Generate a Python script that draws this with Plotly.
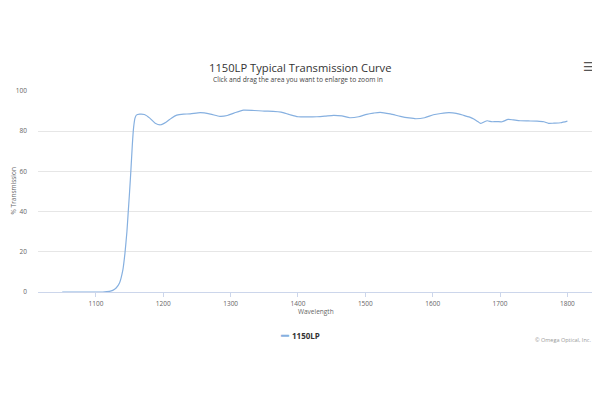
import plotly.graph_objects as go

wavelength = [1050, 1080, 1110, 1120, 1125, 1130, 1135, 1140, 1143, 1146, 1148, 1150, 1152,
              1154, 1156, 1158, 1160, 1165, 1172, 1180, 1188, 1196, 1204, 1212, 1220, 1230,
              1240, 1255, 1270, 1284, 1295, 1305, 1319, 1335, 1350, 1363, 1375, 1388, 1400,
              1415, 1428, 1440, 1453, 1465, 1477, 1490, 1502, 1512, 1522, 1537, 1552, 1565,
              1575, 1588, 1601, 1612, 1624, 1635, 1646, 1655, 1661, 1667, 1671, 1676, 1681,
              1688, 1695, 1703, 1712, 1720, 1730, 1742, 1755, 1765, 1772, 1780, 1790, 1800]
transmission = [0, 0, 0, 0.3, 0.8, 2, 4.5, 11, 19, 30, 40, 50, 61,
                73, 82, 86.5, 88, 88.5, 88.3, 86.5, 84, 83.2, 84.5, 86.5, 88, 88.5,
                88.6, 89.2, 88.5, 87.4, 87.8, 89, 90.5, 90.3, 90, 89.9, 89.5, 88.2, 87.2,
                87.1, 87.2, 87.5, 87.9, 87.6, 86.7, 87.2, 88.4, 89, 89.4, 88.6, 87.4, 86.6,
                86.2, 86.7, 88.2, 88.8, 89.2, 88.9, 87.9, 87, 86.1, 84.8, 83.9, 84.6, 85.2,
                84.7, 84.8, 84.7, 85.9, 85.6, 85.2, 85.1, 85.0, 84.7, 83.9, 84.0, 84.2, 85.0]
x_ticks = [1100, 1200, 1300, 1400, 1500, 1600, 1700, 1800]
y_ticks = [0, 20, 40, 60, 80, 100]
series_name = "1150LP"
line_color = "#86b0e0"

FONT = "Open Sans, Lato, sans-serif"

fig = go.Figure()
fig.add_trace(go.Scatter(
    x=wavelength, y=transmission, mode="lines", name=series_name,
    line=dict(color=line_color, width=1.2, shape="spline", smoothing=0.6),
    hoverinfo="x+y", showlegend=False,
))

# page is rendered with an 8px body margin, so the figure is 8px smaller
fig.update_layout(
    width=592, height=392,
    paper_bgcolor="white", plot_bgcolor="white",
    margin=dict(l=30, r=7, t=83, b=108, autoexpand=False),
    font=dict(family=FONT, color="#666666", size=7),
    xaxis=dict(range=[1014, 1838], tickvals=x_ticks, showgrid=False, zeroline=False,
               showline=True, linecolor="#ccd6eb", linewidth=1,
               ticks="outside", ticklen=4, tickcolor="#ccd6eb",
               tickfont=dict(size=6.5, color="#666666"), ticklabelstandoff=1,
               automargin=False),
    yaxis=dict(range=[0, 100], tickvals=y_ticks, showgrid=True, gridcolor="#e6e6e6",
               gridwidth=1, zeroline=False, showline=False, ticks="",
               tickfont=dict(size=6.5, color="#666666"), ticklabelstandoff=10,
               automargin=False),
    showlegend=False,
    annotations=[
        dict(text="1150LP Typical Transmission Curve", xref="paper", yref="paper",
             x=0.472, y=(292 - 67) / 201, xanchor="center", yanchor="middle",
             showarrow=False, font=dict(size=11.2, color="#333333")),
        dict(text="Click and drag the area you want to enlarge to zoom in", xref="paper",
             yref="paper", x=0.468, y=(292 - 79) / 201, xanchor="center", yanchor="middle",
             showarrow=False, font=dict(size=6.7, color="#444444")),
        dict(text="Wavelength", xref="paper", yref="paper", x=0.5, y=(292 - 311) / 201,
             xanchor="center", yanchor="middle", showarrow=False,
             font=dict(size=6.5, color="#666666")),
        dict(text="% Transmission", xref="paper", yref="paper", x=(13 - 38) / 555, y=0.5,
             xanchor="center", yanchor="middle", textangle=-90, showarrow=False,
             font=dict(size=6.5, color="#666666")),
        dict(text="━", xref="paper", yref="paper", x=(284 - 38) / 555, y=(292 - 335) / 201,
             xanchor="center", yanchor="middle", showarrow=False,
             font=dict(family="DejaVu Sans", size=13, color=line_color)),
        dict(text="<b>" + series_name + "</b>",
             xref="paper", yref="paper", x=(290 - 38) / 555, y=(292 - 335) / 201,
             xanchor="left", yanchor="middle", showarrow=False,
             font=dict(size=8, color="#333333")),
        dict(text="© Omega Optical, Inc.", xref="paper", yref="paper", x=1.0,
             y=(292 - 340) / 201, xanchor="right", yanchor="middle", showarrow=False,
             font=dict(size=5.5, color="#999999")),
        dict(text="☰", xref="paper", yref="paper", x=(588 - 38) / 555, y=(292 - 67) / 201,
             xanchor="center", yanchor="middle", showarrow=False,
             font=dict(family="DejaVu Sans", size=12, color="#555555")),
    ],
)

fig.write_html("out.html", config={"displayModeBar": False})
